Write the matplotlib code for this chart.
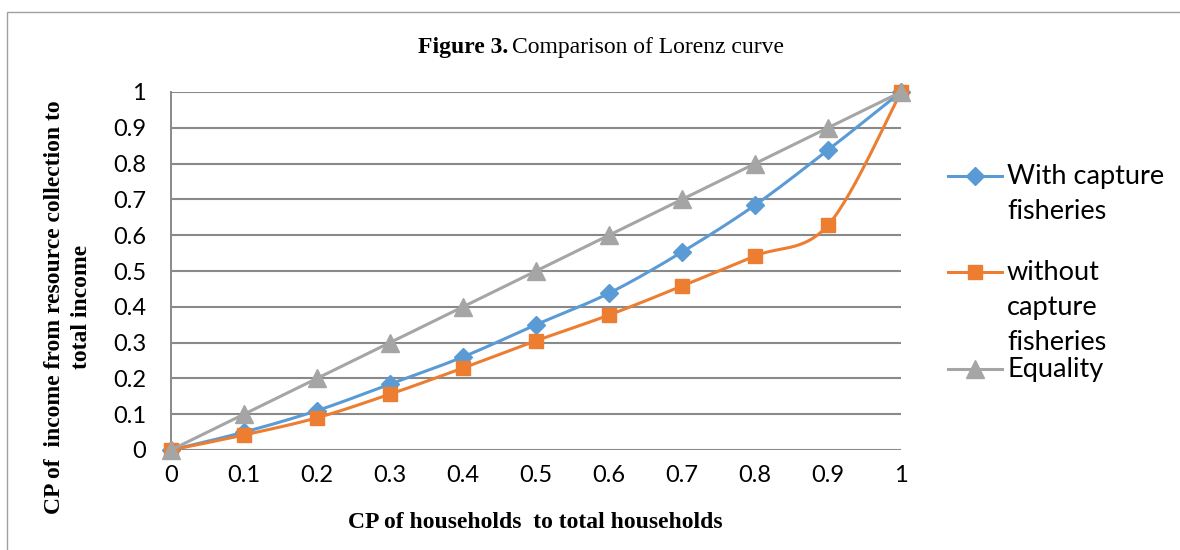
import numpy as np
import matplotlib
matplotlib.use("Agg")
import matplotlib.pyplot as plt
from matplotlib.lines import Line2D
from matplotlib.patches import Rectangle

# ---- data ----
cp_households = [0, 0.1, 0.2, 0.3, 0.4, 0.5, 0.6, 0.7, 0.8, 0.9, 1.0]
with_capture = [0, 0.05, 0.11, 0.184, 0.26, 0.35, 0.438, 0.553, 0.684, 0.838, 1.0]
without_capture = [0, 0.042, 0.09, 0.156, 0.229, 0.305, 0.377, 0.458, 0.542, 0.628, 1.0]
equality = [0, 0.1, 0.2, 0.3, 0.4, 0.5, 0.6, 0.7, 0.8, 0.9, 1.0]
tick_labels = ["0", "0.1", "0.2", "0.3", "0.4", "0.5", "0.6", "0.7", "0.8", "0.9", "1"]
series_names = ["With capture\nfisheries", "without\ncapture\nfisheries", "Equality"]

BLUE = "#5B9BD5"
ORANGE = "#ED7D31"
GRAY = "#A5A5A5"
GRID = "#898989"
W, H = 1180, 550


def smooth(x, y, n=30):
    """Excel-like smoothed line: cubic Bezier through points (Catmull-Rom)."""
    pts = np.column_stack([x, y]).astype(float)
    out = []
    for i in range(len(pts) - 1):
        p0 = pts[i - 1] if i > 0 else pts[i]
        p1 = pts[i]
        p2 = pts[i + 1]
        p3 = pts[i + 2] if i + 2 < len(pts) else pts[i + 1]
        c1 = p1 + (p2 - p0) / 6.0
        c2 = p2 - (p3 - p1) / 6.0
        t = np.linspace(0, 1, n)[:, None]
        seg = ((1 - t) ** 3) * p1 + 3 * ((1 - t) ** 2) * t * c1 + 3 * (1 - t) * t ** 2 * c2 + t ** 3 * p2
        if i > 0:
            seg = seg[1:]
        out.append(seg)
    out = np.vstack(out)
    return out[:, 0], out[:, 1]


fig = plt.figure(figsize=(W / 100, H / 100), dpi=100)
fig.patch.set_facecolor("white")

# outer border
fig.add_artist(Rectangle((7 / W, -0.05), 1.1, 1 - 12 / H + 0.05, transform=fig.transFigure,
                         fill=False, edgecolor="#A0A0A0", lw=1.0))

ax = fig.add_axes([171 / W, 1 - 450 / H, (901 - 171) / W, (450 - 92) / H])
ax.set_xlim(0, 1)
ax.set_ylim(0, 1)
ax.set_xticks(cp_households)
ax.set_xticklabels(tick_labels)
ax.set_yticks(equality)
ax.set_yticklabels(tick_labels)
for s in ["top", "right", "bottom"]:
    ax.spines[s].set_visible(False)
ax.spines["left"].set_color(GRID)
ax.spines["left"].set_linewidth(1.4)
ax.tick_params(length=0, labelsize=17, colors="black")
ax.tick_params(axis="y", pad=18)
ax.tick_params(axis="x", pad=11)
for lab in ax.get_xticklabels() + ax.get_yticklabels():
    lab.set_fontfamily("Lato")
ax.yaxis.grid(True, color=GRID, lw=1.5)
ax.set_axisbelow(True)

lw = 2.2
D_MS, S_MS, T_MS = 9, 10.5, 12.5
xs, ys = smooth(cp_households, with_capture)
ax.plot(xs, ys, color=BLUE, lw=lw, clip_on=False, zorder=3)
ax.plot(cp_households, with_capture, ls="none", marker="D", ms=D_MS, color=BLUE, clip_on=False, zorder=3)

xs, ys = smooth(cp_households, without_capture)
ax.plot(xs, ys, color=ORANGE, lw=lw, clip_on=False, zorder=4)
ax.plot(cp_households, without_capture, ls="none", marker="s", ms=S_MS, color=ORANGE, clip_on=False, zorder=4)

ax.plot(cp_households, equality, color=GRAY, lw=lw, marker="^", ms=T_MS, clip_on=False, zorder=5)

# axis labels
fig.text(535 / W, 1 - 522 / H, "CP of households  to total households", ha="center", va="center",
         family="Liberation Serif", fontweight="bold", fontsize=17)
fig.text(68 / W, 1 - 307 / H, "CP of  income from resource collection to\ntotal income",
         rotation=90, ha="center", va="center", multialignment="center", family="Liberation Serif",
         fontweight="bold", fontsize=17, linespacing=1.4)

# title
fig.text(508 / W, 1 - 48 / H, "Figure 3.", ha="right", va="center", family="Liberation Serif",
         fontweight="bold", fontsize=17)
fig.text(512 / W, 1 - 48 / H, "Comparison of Lorenz curve", ha="left", va="center",
         family="Liberation Serif", fontsize=17)

# legend (manual)
leg_items = [(BLUE, "D", D_MS, 176), (ORANGE, "s", S_MS, 272), (GRAY, "^", T_MS, 369)]
for (c, m, ms, yp), name in zip(leg_items, series_names):
    yf = 1 - yp / H
    fig.add_artist(Line2D([948 / W, 1002 / W], [yf, yf], transform=fig.transFigure,
                          color=c, lw=lw))
    fig.add_artist(Line2D([975 / W], [yf], transform=fig.transFigure, color=c,
                          marker=m, ms=ms, ls="none"))
    for k, line in enumerate(name.split("\n")):
        fig.text(1007 / W, 1 - (yp + 35.5 * k) / H, line, ha="left", va="center",
                 family="Lato", fontsize=19.5)

fig.savefig("out.png", dpi=100)
